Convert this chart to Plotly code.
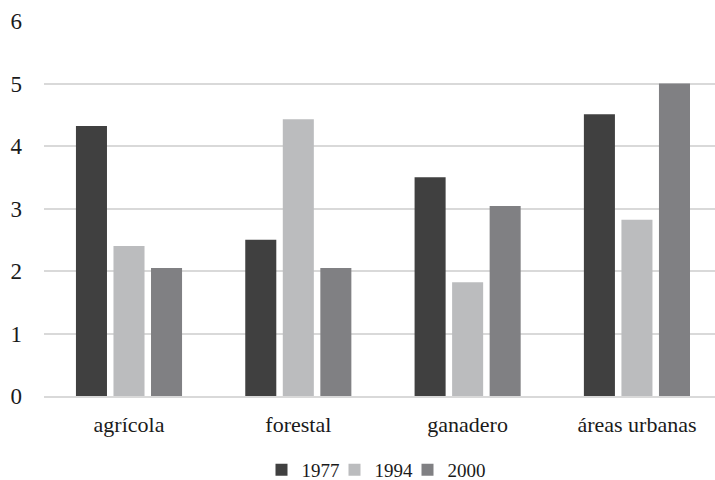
import plotly.graph_objects as go

categories = ["agrícola", "forestal", "ganadero", "áreas urbanas"]
series_names = ["1977", "1994", "2000"]
v1977 = [4.32, 2.5, 3.5, 4.51]
v1994 = [2.4, 4.43, 1.82, 2.82]
v2000 = [2.05, 2.05, 3.04, 5.0]
colors = ["#404040", "#bbbcbe", "#808083"]

fig = go.Figure()
for i, (name, vals, c) in enumerate(zip(series_names, [v1977, v1994, v2000], colors)):
    fig.add_trace(go.Bar(x=categories, y=vals, name=name,
                         marker=dict(color=c, line=dict(width=0)),
                         legendwidth=45 if i == len(series_names) - 1 else None))

font = "Liberation Serif"
fig.update_layout(
    width=715, height=480,
    margin=dict(l=44, r=0, t=21, b=84, autoexpand=False),
    paper_bgcolor="white", plot_bgcolor="white",
    barmode="group", bargap=0.335, bargroupgap=0.173,
    font=dict(family=font, size=19, color="#1a1a1a"),
    showlegend=True,
    legend=dict(orientation="h", x=0.5, xanchor="center", xref="paper",
                y=0.021, yanchor="middle", yref="container",
                font=dict(size=19), itemwidth=30, entrywidth=28, tracegroupgap=0),
    xaxis=dict(range=[-0.502, 3.461], showgrid=False, showline=True, linecolor="#d9d9d9", linewidth=2,
               ticks="", ticklen=0, tickfont=dict(size=22), ticklabelstandoff=8, automargin=False),
    yaxis=dict(range=[0, 6], dtick=1, showgrid=True, gridcolor="#d9d9d9", gridwidth=2,
               zeroline=False, ticks="", ticklen=0, tickfont=dict(size=23), ticklabelstandoff=21,
               automargin=False),
)
fig.write_html("out.html", config={"displayModeBar": False},
               post_script="document.body.style.margin='0';")
